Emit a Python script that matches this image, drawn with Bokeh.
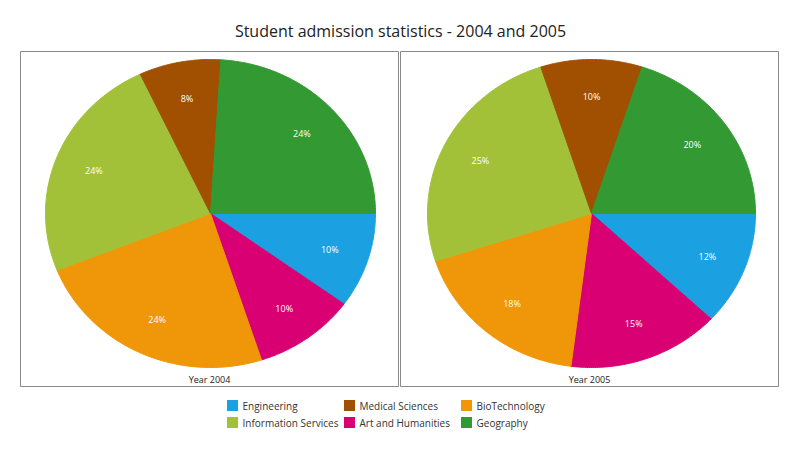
import numpy as np
from bokeh.plotting import figure
from bokeh.models import Range1d
from bokeh.core.properties import value
from bokeh.embed import file_html
from bokeh.resources import INLINE

categories = ["Engineering", "Art and Humanities", "BioTechnology",
              "Information Services", "Medical Sciences", "Geography"]
colors = ["#1BA1E2", "#D80073", "#F09609", "#A2C139", "#A05000", "#339933"]
share_2004 = [10, 10, 24, 24, 8, 24]
share_2005 = [12, 15, 18, 25, 10, 20]
legend_order = ["Engineering", "Medical Sciences", "BioTechnology",
                "Information Services", "Art and Humanities", "Geography"]

FONT = value("Open Sans")

# coordinates follow the screen: x right, y down
p = figure(width=784, height=434, x_range=Range1d(0, 784), y_range=Range1d(434, 0),
           output_backend="svg", toolbar_location=None, min_border=0)
p.axis.visible = False
p.grid.visible = False
p.outline_line_color = None

p.text(x=[400], y=[30], text=["Student admission statistics - 2004 and 2005"],
       text_align="center", text_baseline="middle", text_font=FONT,
       text_font_size="16px", text_color="#222222")

panels = [(20, 398, 210, 165, share_2004, "Year 2004"),
          (400, 778, 591, 164, share_2005, "Year 2005")]
cy, ry = 213, 154
for x0, x1, cx, rx, shares, caption in panels:
    p.quad(left=[x0], right=[x1], top=[51], bottom=[386],
           fill_color=None, line_color="#8a8a8a", line_width=1)
    start = 0.0
    lx, ly, lt = [], [], []
    for share, col in zip(shares, colors):
        end = start + share / 100 * 2 * np.pi
        t = np.linspace(start, end, 80)
        xs = np.concatenate([[cx], cx + rx * np.cos(t)])
        ys = np.concatenate([[cy], cy + ry * np.sin(t)])
        p.patch(xs, ys, fill_color=col, line_color=col)
        mid = (start + end) / 2
        lx.append(cx + 0.76 * rx * np.cos(mid))
        ly.append(cy + 0.76 * ry * np.sin(mid))
        lt.append(f"{share}%")
        start = end
    p.text(x=lx, y=ly, text=lt, text_align="center", text_baseline="middle",
           text_font=FONT, text_font_size="9px", text_color="white")
    p.text(x=[(x0 + x1) / 2], y=[379], text=[caption], text_align="center",
           text_baseline="middle", text_font=FONT, text_font_size="9px",
           text_color="#222222")

col_x = [232, 349, 466]
row_y = [405, 422]
for i, name in enumerate(legend_order):
    lx = col_x[i % 3]
    ly = row_y[i // 3]
    c = colors[categories.index(name)]
    p.rect(x=[lx], y=[ly], width=11, height=11, fill_color=c, line_color=None)
    p.text(x=[lx + 10], y=[ly], text=[name], text_baseline="middle",
           text_font=FONT, text_font_size="10px", text_color="#333333")

open("out.html", "w").write(file_html(p, INLINE))
